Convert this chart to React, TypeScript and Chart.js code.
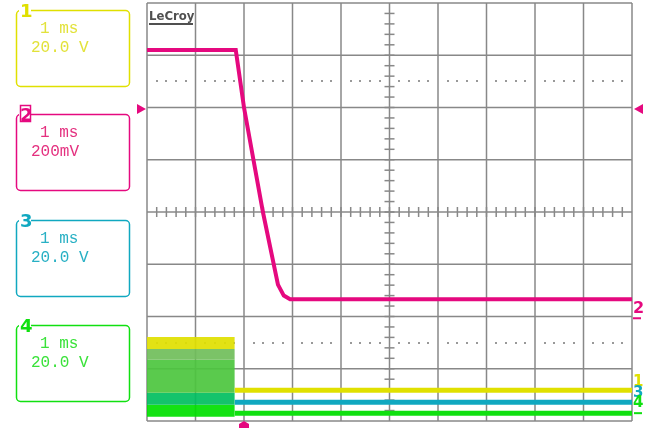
import React, { useEffect, useRef } from "react";
import { Chart, registerables } from "chart.js";

Chart.register(...registerables);

// Time axis in ms (1 ms/div, trigger at 0), vertical axis in divisions
const timeMin = -2;
const timeMax = 8;
const divMin = -4;
const divMax = 4;

// Channel 2 (magenta) falling edge
const ch2Times = [-2, -0.17, 0, 0.39, 0.7, 0.82, 0.95, 8];
const ch2Levels = [3.1, 3.1, 2.0, 0.0, -1.39, -1.6, -1.67, -1.67];

// Channels 1,3,4 after the switching stops
const burstEnd = -0.19;
const ch1Times = [-0.19, 8];
const ch1Levels = [-3.41, -3.41];
const ch3Times = [-0.19, 8];
const ch3Levels = [-3.64, -3.64];
const ch4Times = [-0.19, 8];
const ch4Levels = [-3.85, -3.85];

// Switching burst envelope bands (top / bottom in divisions) before the edge
const burstTops = [-2.39, -2.62, -2.83, -3.46, -3.69];
const burstBottoms = [-2.62, -2.83, -3.46, -3.69, -3.92];

const triggerLevel = 1.97;

// Channel panel texts
const channelNames = ["1", "2", "3", "4"];
const channelTimebase = ["1 ms", "1 ms", "1 ms", "1 ms"];
const channelScale = ["20.0 V", "200mV", "20.0 V", "20.0 V"];

const C_YEL = "#e0e000";
const C_MAG = "#e5097f";
const C_CYA = "#10a8c0";
const C_GRN = "#10e010";
const channelColors = [C_YEL, C_MAG, C_CYA, C_GRN];
const channelTextColors = ["#e2e23a", "#e4307f", "#28b0c4", "#3ae23a"];
const bandColors = [
  "rgba(224,224,0,0.92)",
  "rgba(112,190,90,0.92)",
  "rgba(76,198,62,0.92)",
  "rgba(0,190,96,0.92)",
  "rgba(0,224,0,0.92)",
];
const boxTops = [10, 114, 220, 325];

const pts = (xs: number[], ys: number[]) => xs.map((x, i) => ({ x, y: ys[i] }));

const scopePlugin = {
  id: "scope",
  beforeDatasetsDraw(chart: any) {
    const { ctx, scales } = chart;
    const x = scales.x;
    const y = scales.y;
    ctx.save();
    ctx.strokeStyle = "#888888";
    ctx.lineWidth = 1.5;
    const xl = x.getPixelForValue(timeMin);
    const xr = x.getPixelForValue(timeMax);
    const yt = y.getPixelForValue(divMax);
    const yb = y.getPixelForValue(divMin);
    for (let t = timeMin; t <= timeMax; t++) {
      const px = x.getPixelForValue(t);
      ctx.beginPath();
      ctx.moveTo(px, yt);
      ctx.lineTo(px, yb);
      ctx.stroke();
    }
    for (let v = divMin; v <= divMax; v++) {
      const py = y.getPixelForValue(v);
      ctx.beginPath();
      ctx.moveTo(xl, py);
      ctx.lineTo(xr, py);
      ctx.stroke();
    }
    // centre cross minor ticks
    const cx = x.getPixelForValue((timeMin + timeMax) / 2);
    const cy = y.getPixelForValue(0);
    for (let k = 1; k < (divMax - divMin) * 5; k++) {
      const py = y.getPixelForValue(divMin + k * 0.2);
      ctx.beginPath();
      ctx.moveTo(cx - 5, py);
      ctx.lineTo(cx + 5, py);
      ctx.stroke();
    }
    for (let k = 1; k < (timeMax - timeMin) * 5; k++) {
      const px = x.getPixelForValue(timeMin + k * 0.2);
      ctx.beginPath();
      ctx.moveTo(px, cy - 5);
      ctx.lineTo(px, cy + 5);
      ctx.stroke();
    }
    // dotted rows
    ctx.fillStyle = "#999999";
    [2.5, -2.5].forEach((v) => {
      const py = y.getPixelForValue(v);
      for (let k = 1; k < (timeMax - timeMin) * 5; k++) {
        if (k % 5 === 0) continue;
        const px = x.getPixelForValue(timeMin + k * 0.2);
        ctx.fillRect(Math.round(px) - 1, Math.round(py) - 1, 2, 2);
      }
    });
    ctx.restore();
  },
  afterDraw(chart: any) {
    const { ctx, scales } = chart;
    const x = scales.x;
    const y = scales.y;
    ctx.save();
    // LeCroy logo
    ctx.fillStyle = "#505050";
    ctx.font = "bold 13px 'DejaVu Sans Condensed', 'DejaVu Sans', sans-serif";
    ctx.textBaseline = "alphabetic";
    ctx.fillText("LeCroy", 149, 20);
    ctx.fillRect(149, 23, 44, 2);

    // channel boxes
    for (let i = 0; i < 4; i++) {
      const top = boxTops[i];
      const col = channelColors[i];
      ctx.strokeStyle = col;
      ctx.lineWidth = 1.5;
      ctx.beginPath();
      ctx.roundRect(16.5, top + 0.5, 113, 76, 4);
      ctx.stroke();
      ctx.fillStyle = "#ffffff";
      ctx.fillRect(19, top - 8, 12, 14);
      ctx.fillStyle = col;
      ctx.font = "bold 18px 'DejaVu Sans', sans-serif";
      ctx.fillText(channelNames[i], 20, top + 7);
      if (i === 1) {
        ctx.lineWidth = 1.5;
        ctx.strokeRect(20.5, top - 8.5, 10, 16);
      }
      ctx.fillStyle = channelTextColors[i];
      ctx.font = "16px 'Liberation Mono', monospace";
      ctx.textBaseline = "middle";
      ctx.fillText(channelTimebase[i], 40, top + 19);
      ctx.fillText(channelScale[i], 31, top + 38);
      ctx.textBaseline = "alphabetic";
    }

    // trigger level arrows
    const ty = y.getPixelForValue(triggerLevel);
    ctx.fillStyle = C_MAG;
    ctx.beginPath();
    ctx.moveTo(137, ty - 5);
    ctx.lineTo(146, ty);
    ctx.lineTo(137, ty + 5);
    ctx.closePath();
    ctx.fill();
    ctx.beginPath();
    ctx.moveTo(643, ty - 5);
    ctx.lineTo(634, ty);
    ctx.lineTo(643, ty + 5);
    ctx.closePath();
    ctx.fill();

    // trigger position marker
    const tx = x.getPixelForValue(0);
    ctx.beginPath();
    ctx.moveTo(tx, 421);
    ctx.lineTo(tx + 5, 424);
    ctx.lineTo(tx + 5, 428);
    ctx.lineTo(tx - 5, 428);
    ctx.lineTo(tx - 5, 424);
    ctx.closePath();
    ctx.fill();

    // right-hand channel markers
    ctx.font = "bold 16px 'DejaVu Sans', sans-serif";
    ctx.fillStyle = C_MAG;
    ctx.fillText("2", 633, y.getPixelForValue(ch2Levels[ch2Levels.length - 1]) + 14);
    ctx.fillRect(633, y.getPixelForValue(ch2Levels[ch2Levels.length - 1]) + 18, 8, 2);
    ctx.font = "bold 15px 'DejaVu Sans', sans-serif";
    ctx.fillStyle = C_YEL;
    ctx.fillText("1", 633, 386);
    ctx.fillStyle = C_CYA;
    ctx.fillText("3", 633, 397);
    ctx.fillStyle = C_GRN;
    ctx.fillText("4", 633, 407);
    ctx.fillRect(634, y.getPixelForValue(ch4Levels[0]) - 1, 8, 2);
    ctx.restore();
  },
};

export default function App() {
  const ref = useRef<HTMLCanvasElement | null>(null);
  useEffect(() => {
    if (!ref.current) return;
    const bandSets = burstTops.map((top, i) => ({
      label: "burst" + i,
      data: [
        { x: timeMin, y: top },
        { x: burstEnd, y: top },
      ],
      borderWidth: 0,
      borderColor: "rgba(0,0,0,0)",
      backgroundColor: bandColors[i],
      fill: { value: burstBottoms[i] },
      pointRadius: 0,
    }));
    const chart = new Chart(ref.current, {
      type: "line",
      data: {
        datasets: [
          {
            label: "CH2",
            data: pts(ch2Times, ch2Levels),
            borderColor: C_MAG,
            borderWidth: 4,
            pointRadius: 0,
            fill: false,
          },
          {
            label: "CH1",
            data: pts(ch1Times, ch1Levels),
            borderColor: C_YEL,
            borderWidth: 5,
            pointRadius: 0,
            fill: false,
          },
          {
            label: "CH3",
            data: pts(ch3Times, ch3Levels),
            borderColor: C_CYA,
            borderWidth: 5,
            pointRadius: 0,
            fill: false,
          },
          {
            label: "CH4",
            data: pts(ch4Times, ch4Levels),
            borderColor: C_GRN,
            borderWidth: 5,
            pointRadius: 0,
            fill: false,
          },
          ...bandSets,
        ] as any,
      },
      options: {
        responsive: false,
        animation: false,
        devicePixelRatio: 1,
        layout: { padding: { left: 147, right: 14, top: 3, bottom: 8 } },
        scales: {
          x: { type: "linear", min: timeMin, max: timeMax, display: false },
          y: { type: "linear", min: divMin, max: divMax, display: false },
        },
        plugins: {
          legend: { display: false },
          tooltip: { enabled: false },
        },
        elements: { line: { tension: 0 } },
      },
      plugins: [scopePlugin],
    });
    return () => chart.destroy();
  }, []);
  return (
    <div style={{ position: "fixed", left: 0, top: 0, width: 646, height: 429, background: "#fff" }}>
      <canvas ref={ref} width={646} height={429} style={{ display: "block" }} />
    </div>
  );
}
